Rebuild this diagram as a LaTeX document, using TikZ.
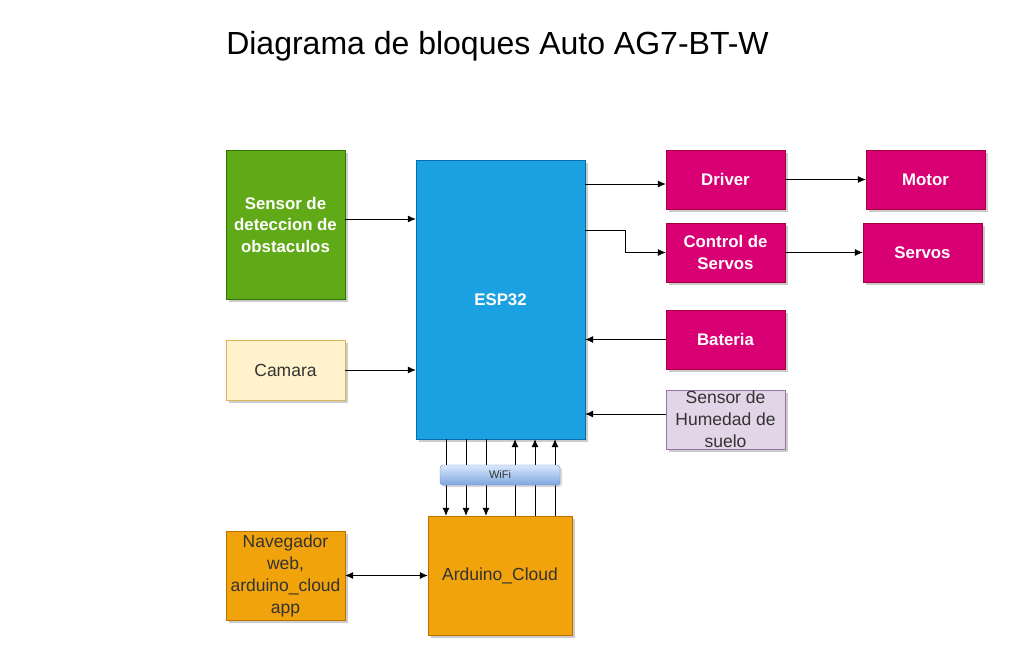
\documentclass[tikz,border=0pt]{standalone}
\usepackage{fontspec}
\setmainfont{Liberation Sans}
\usetikzlibrary{arrows.meta,shadows}
\definecolor{sensgreen}{HTML}{60A917}
\definecolor{sensline}{HTML}{2D7600}
\definecolor{espblue}{HTML}{1BA1E2}
\definecolor{espline}{HTML}{006EAF}
\definecolor{magfill}{HTML}{D80073}
\definecolor{magline}{HTML}{A50040}
\definecolor{camfill}{HTML}{FFF2CC}
\definecolor{camline}{HTML}{D6B656}
\definecolor{humfill}{HTML}{E1D5E7}
\definecolor{humline}{HTML}{9673A6}
\definecolor{cloudfill}{HTML}{F0A30A}
\definecolor{cloudline}{HTML}{BD7000}
\definecolor{wifitop}{HTML}{DAE8FC}
\definecolor{wifibot}{HTML}{7EA6E0}
\definecolor{wifiline}{HTML}{6C8EBF}
\definecolor{txtdark}{HTML}{333333}
\begin{document}
	\begin{tikzpicture}[x=1pt, y=-1pt, >={Latex[length=8pt,width=7pt]},
		blk/.style={draw, inner sep=0pt, align=center, minimum width=119pt, minimum height=59pt,
			font=\fontsize{17.5}{22}\selectfont, drop shadow={shadow xshift=2.5pt, shadow yshift=-2.5pt, opacity=0.4}},
		whiteblk/.style={blk, text=white, font=\bfseries\fontsize{16.8}{21.5}\selectfont},
		magblk/.style={whiteblk, fill=magfill, draw=magline},
		conn/.style={->, line width=0.8pt}]
		\useasboundingbox (0,0) rectangle (1019,670);
		\node[font=\fontsize{32}{38}\selectfont] (title) at (497.5,46) {Diagrama de bloques Auto AG7-BT-W};

		\node[whiteblk, fill=sensgreen, draw=sensline, minimum height=149pt] (sens) at (285.5,224.5) {Sensor de\\deteccion de\\obstaculos};
		\node[blk, fill=camfill, draw=camline, text=txtdark, minimum height=60pt] (cam) at (285.5,370) {Camara};
		\node[whiteblk, fill=espblue, draw=espline, minimum width=169pt, minimum height=279pt] (esp) at (500.5,299.5) {ESP32};
		\node[magblk] (driver) at (725.5,179.5) {Driver};
		\node[magblk] (motor) at (925.5,179.5) {Motor};
		\node[magblk] (ctrl) at (725.5,252.5) {Control de\\Servos};
		\node[magblk] (servos) at (922.5,252.5) {Servos};
		\node[magblk] (bat) at (725.5,339.5) {Bateria};
		\node[blk, fill=humfill, draw=humline, text=txtdark] (hum) at (725.5,419.5) {Sensor de\\Humedad de\\suelo};
		\node[blk, fill=cloudfill, draw=cloudline, text=txtdark, minimum width=144pt, minimum height=119pt] (cloud) at (500,575.5) {Arduino\_Cloud};
		\node[blk, fill=cloudfill, draw=cloudline, text=txtdark, minimum height=89pt] (nav) at (285.5,575.5) {Navegador\\web,\\arduino\_cloud\\app};

		% entradas al ESP32
		\coordinate (sensout) at ([yshift=5.5pt]sens.east);
		\draw[conn] (sensout) -- (esp.west |- sensout);
		\draw[conn] (cam.east) -- (esp.west |- cam.east);
		\draw[conn] (bat.west) -- (esp.east |- bat.west);
		\coordinate (humout) at ([yshift=5.5pt]hum.west);
		\draw[conn] (humout) -- (esp.east |- humout);

		% salidas del ESP32
		\coordinate (drvin) at ([yshift=-4.5pt]driver.west);
		\draw[conn] (esp.east |- drvin) -- (drvin);
		\draw[conn] ([yshift=69.5pt]esp.east) -- ++(40,0) |- (ctrl.west);
		\draw[conn] (driver) -- (motor);
		\draw[conn] (ctrl) -- (servos);
		\draw[<->, line width=0.8pt] (nav) -- (cloud);

		% enlace WiFi
		\foreach \dx in {-54.5,-34.5,-14.5}
			\draw[conn] ([xshift=\dx pt]esp.south) -- ([xshift=\dx pt]esp.south |- cloud.north);
		\foreach \dx in {14.5,34.5,54.5}
			\draw[conn] ([xshift=\dx pt]esp.south |- cloud.north) -- ([xshift=\dx pt]esp.south);
		\node[draw=wifiline, top color=wifitop, bottom color=wifibot, rounded corners=3pt, minimum width=120pt,
			minimum height=20pt, inner sep=0pt, text=txtdark, font=\fontsize{11}{13}\selectfont,
			drop shadow={shadow xshift=2pt, shadow yshift=-2pt, opacity=0.3}] (wifi) at (500,475) {WiFi};
	\end{tikzpicture}
\end{document}
